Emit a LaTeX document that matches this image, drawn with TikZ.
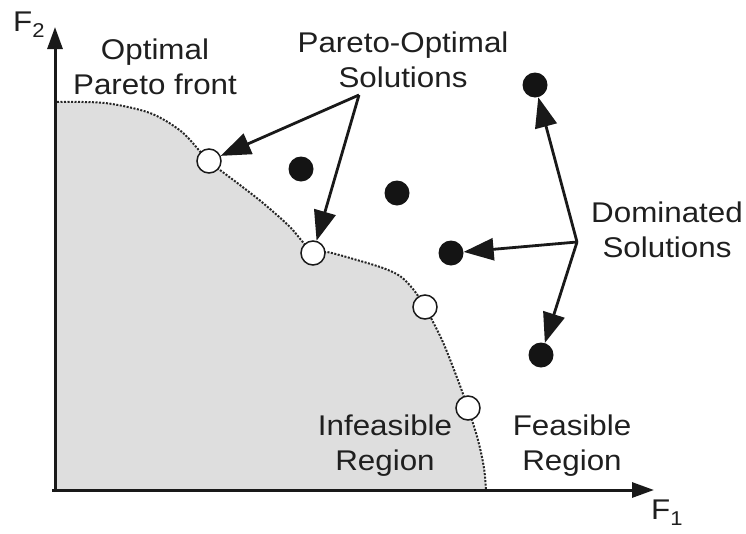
\documentclass[tikz,border=0pt]{standalone}
\usepackage{fontspec}
\setmainfont{Liberation Sans}[FakeStretch=1.1]
\usetikzlibrary{arrows.meta}
\begin{document}
\begin{tikzpicture}[x=1pt,y=-1pt,
  lbl/.style={font=\fontsize{28.5}{35}\selectfont, align=center, inner sep=0pt, text=black!88},
  axlbl/.style={font=\fontsize{28.5}{35}\selectfont, inner sep=0pt, anchor=base west, text=black!88},
  opt/.style={circle, draw=black!90, line width=1.5pt, fill=white, minimum size=24pt, inner sep=0pt},
  dom/.style={circle, fill=black!92, minimum size=25pt, inner sep=0pt},
  axis/.style={line width=3pt, -{Triangle[length=22pt,width=15pt]}, black!90},
  pointer/.style={line width=2.8pt, black!90, -{Triangle[length=30pt,width=22pt]}},
  front/.style={line width=2pt, dash pattern=on 2pt off 1.5pt, black!85},
]
\useasboundingbox (0,0) rectangle (746,533);
% feasible / infeasible region
\fill[fill=black!13] (57,102) -- plot[smooth] coordinates {(57,102) (105,103) (150,113) (182,132) (209,161) (240,185) (263,203) (290,227) (313,253) (327,252) (357,260) (383,268) (400,276) (413,289) (425,307) (442,340) (456,375) (468,408) (478,440) (484,468) (486,490)} -- (57,490) -- cycle;
\draw[front] plot[smooth] coordinates {(57,102) (105,103) (150,113) (182,132) (209,161) (240,185) (263,203) (290,227) (313,253) (327,252) (357,260) (383,268) (400,276) (413,289) (425,307) (442,340) (456,375) (468,408) (478,440) (484,468) (486,490)};
% axes
\coordinate (O) at (55,490);
\coordinate (ytip) at (55,27);
\coordinate (xtip) at (654,490);
\coordinate (xstart) at (52,490);
\draw[axis] (O) ++(0,2) -- (ytip);
\draw[axis] (xstart) -- (xtip);
\node[axlbl] (f2) at (13,31) {F\raisebox{-6pt}{\fontsize{20}{20}\selectfont 2}};
\node[axlbl] (f1) at (651,519) {F\raisebox{-6pt}{\fontsize{20}{20}\selectfont 1}};
% Pareto-optimal points
\node[opt] (p1) at (209,161) {};
\node[opt] (p2) at (313,253) {};
\node[opt] (p3) at (425,307) {};
\node[opt] (p4) at (468,408) {};
% dominated points
\node[dom] (d1) at (301,169) {};
\node[dom] (d2) at (397,193) {};
\node[dom] (d3) at (451,253) {};
\node[dom] (d4) at (535,85) {};
\node[dom] (d5) at (541,355) {};
% labels
\node[lbl] (optfront) at (155,67) {Optimal\\Pareto front};
\node[lbl] (poslabel) at (403,60) {Pareto-Optimal\\Solutions};
\node[lbl] (domlabel) at (667,230) {Dominated\\Solutions};
\node[lbl] (infeas) at (385,446) {Infeasible\\Region};
\node[lbl] (feas) at (572,446) {Feasible\\Region};
% pointers
\coordinate (pa) at (359,95);
\coordinate (da) at (577,242);
\draw[pointer] (pa) -- (p1);
\draw[pointer] (pa) -- (p2);
\draw[pointer] (da) -- (d4);
\draw[pointer] (da) -- (d3);
\draw[pointer] (da) -- (d5);
\end{tikzpicture}
\end{document}
